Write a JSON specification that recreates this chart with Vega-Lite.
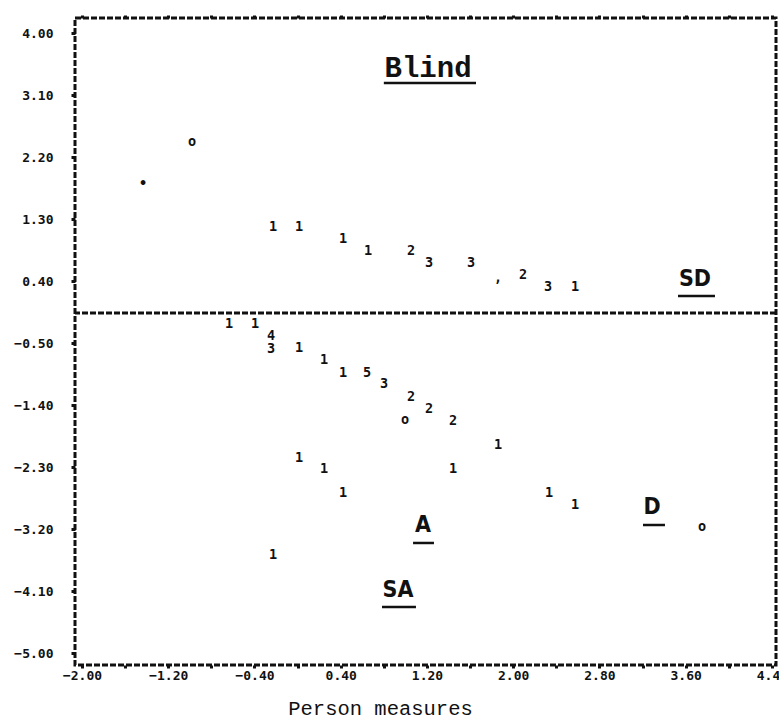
{
  "$schema": "https://vega.github.io/schema/vega-lite/v6.json",
  "width": 701,
  "height": 647,
  "autosize": {"type": "none"},
  "padding": {"left": 75, "top": 18, "right": 3, "bottom": 61},
  "background": "white",
  "config": {
    "view": {"stroke": "#111", "strokeWidth": 3, "strokeDash": [6, 2]},
    "axis": {"grid": false, "domain": false, "tickColor": "#111", "labelColor": "#111", "labelFont": "DejaVu Sans Mono", "labelFontWeight": "bold", "labelFontSize": 13, "labelFlush": false, "labelOverlap": false, "labelBound": false}
  },
  "datasets": {
    "points": [
      {"x": -0.228, "y": 1.184, "count": "1"},
      {"x": 0.013, "y": 1.184, "count": "1"},
      {"x": 0.421, "y": 1.010, "count": "1"},
      {"x": 0.653, "y": 0.836, "count": "1"},
      {"x": 1.052, "y": 0.836, "count": "2"},
      {"x": 1.219, "y": 0.662, "count": "3"},
      {"x": 1.609, "y": 0.662, "count": "3"},
      {"x": 1.859, "y": 0.444, "count": ","},
      {"x": 2.091, "y": 0.488, "count": "2"},
      {"x": 2.323, "y": 0.313, "count": "3"},
      {"x": 2.573, "y": 0.313, "count": "1"},
      {"x": -0.636, "y": -0.224, "count": "1"},
      {"x": -0.395, "y": -0.224, "count": "1"},
      {"x": -0.247, "y": -0.398, "count": "4"},
      {"x": -0.247, "y": -0.585, "count": "3"},
      {"x": 0.013, "y": -0.572, "count": "1"},
      {"x": 0.245, "y": -0.746, "count": "1"},
      {"x": 0.421, "y": -0.935, "count": "1"},
      {"x": 0.644, "y": -0.935, "count": "5"},
      {"x": 0.801, "y": -1.094, "count": "3"},
      {"x": 1.052, "y": -1.283, "count": "2"},
      {"x": 1.219, "y": -1.457, "count": "2"},
      {"x": 0.996, "y": -1.617, "count": "o"},
      {"x": 1.442, "y": -1.631, "count": "2"},
      {"x": 1.859, "y": -1.980, "count": "1"},
      {"x": 0.013, "y": -2.168, "count": "1"},
      {"x": 0.245, "y": -2.328, "count": "1"},
      {"x": 1.442, "y": -2.328, "count": "1"},
      {"x": 0.421, "y": -2.676, "count": "1"},
      {"x": 2.332, "y": -2.676, "count": "1"},
      {"x": 2.573, "y": -2.851, "count": "1"},
      {"x": -0.228, "y": -3.576, "count": "1"},
      {"x": 3.751, "y": -3.170, "count": "o"},
      {"x": -0.980, "y": 2.418, "count": "o"},
      {"x": -1.434, "y": 1.808, "count": "•"}
    ],
    "notes": [
      {"label": "Blind", "x": 1.210, "y": 3.492, "ux1": 0.80, "ux2": 1.655, "uy": 3.274},
      {"label": "SD", "x": 3.686, "y": 0.430, "ux1": 3.529, "ux2": 3.872, "uy": 0.183},
      {"label": "A", "x": 1.163, "y": -3.141, "ux1": 1.071, "ux2": 1.265, "uy": -3.402},
      {"label": "D", "x": 3.288, "y": -2.880, "ux1": 3.204, "ux2": 3.408, "uy": -3.141},
      {"label": "SA", "x": 0.931, "y": -4.084, "ux1": 0.783, "ux2": 1.098, "uy": -4.331}
    ]
  },
  "layer": [
    {
      "data": {"name": "points"},
      "mark": {"type": "text", "font": "DejaVu Sans Mono", "fontWeight": "bold", "fontSize": 13.5, "color": "#111", "align": "center", "baseline": "middle"},
      "encoding": {
        "x": {
          "field": "x", "type": "quantitative",
          "scale": {"domain": [-2.065, 4.438], "nice": false, "zero": false},
          "axis": {
            "orient": "bottom",
            "values": [-2, -1.6, -1.2, -0.8, -0.4, 0, 0.4, 0.8, 1.2, 1.6, 2, 2.4, 2.8, 3.2, 3.6, 4, 4.4],
            "labelExpr": "(round(datum.value * 10) + 20) % 8 == 0 ? format(datum.value, '.2f') : ''",
            "tickSize": 3, "tickWidth": 3, "labelPadding": 1,
            "title": "Person measures",
            "titleFont": "Liberation Mono", "titleFontSize": 20.5, "titleFontWeight": "normal", "titleColor": "#111",
            "titleX": 305, "titleY": 49, "titleAlign": "center", "titleBaseline": "alphabetic"
          }
        },
        "y": {
          "field": "y", "type": "quantitative",
          "scale": {"domain": [-5.173, 4.218], "nice": false, "zero": false},
          "axis": {
            "orient": "left",
            "values": [4, 3.1, 2.2, 1.3, 0.4, -0.5, -1.4, -2.3, -3.2, -4.1, -5],
            "format": ".2f", "tickSize": 4, "tickWidth": 3, "labelPadding": 18, "title": null
          }
        },
        "text": {"field": "count"}
      }
    },
    {
      "data": {"name": "notes"},
      "transform": [{"filter": "datum.label == 'Blind'"}],
      "mark": {"type": "text", "font": "Liberation Mono", "fontWeight": "bold", "fontSize": 29, "color": "#111", "align": "center", "baseline": "middle"},
      "encoding": {
        "x": {
          "field": "x", "type": "quantitative",
          "axis": {"orient": "top", "values": [-2, -1.6, -1.2, -0.8, -0.4, 0, 0.4, 0.8, 1.2, 1.6, 2, 2.4, 2.8, 3.2, 3.6, 4, 4.4], "labels": false, "tickSize": 3, "tickWidth": 3, "title": null}
        },
        "y": {"field": "y", "type": "quantitative", "axis": null},
        "text": {"field": "label"}
      }
    },
    {
      "data": {"name": "notes"},
      "transform": [{"filter": "datum.label != 'Blind'"}],
      "mark": {"type": "text", "font": "DejaVu Sans Condensed, DejaVu Sans, sans-serif", "fontWeight": "bold", "fontSize": 23, "color": "#111", "align": "center", "baseline": "middle"},
      "encoding": {
        "x": {"field": "x", "type": "quantitative", "axis": null},
        "y": {"field": "y", "type": "quantitative", "axis": null},
        "text": {"field": "label"}
      }
    },
    {
      "data": {"name": "notes"},
      "mark": {"type": "rule", "strokeWidth": 2.5, "color": "#111"},
      "encoding": {
        "x": {"field": "ux1", "type": "quantitative", "axis": null},
        "x2": {"field": "ux2"},
        "y": {"field": "uy", "type": "quantitative", "axis": null}
      }
    },
    {
      "data": {"values": [{}]},
      "mark": {"type": "rule", "strokeWidth": 3, "strokeDash": [6, 2], "color": "#111"},
      "encoding": {"y": {"datum": -0.064, "type": "quantitative", "axis": null}}
    }
  ],
  "resolve": {"axis": {"x": "independent", "y": "independent"}}
}
